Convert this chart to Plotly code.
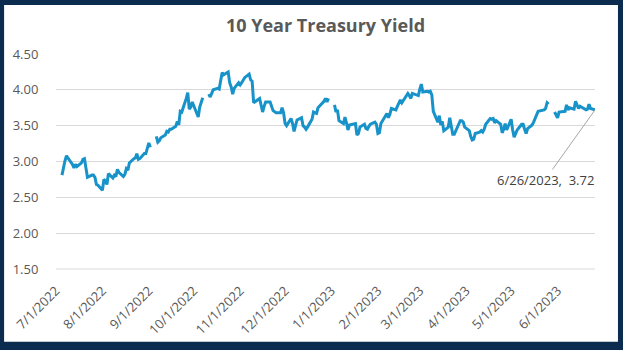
import plotly.graph_objects as go

# ---- data ----
dates = [
 "2022-07-01","2022-07-04","2022-07-05","2022-07-06","2022-07-07","2022-07-08","2022-07-11","2022-07-12","2022-07-13","2022-07-14","2022-07-15",
 "2022-07-18","2022-07-19","2022-07-20","2022-07-21","2022-07-22","2022-07-25","2022-07-26","2022-07-27","2022-07-28","2022-07-29",
 "2022-08-01","2022-08-02","2022-08-03","2022-08-04","2022-08-05","2022-08-08","2022-08-09","2022-08-10","2022-08-11","2022-08-12",
 "2022-08-15","2022-08-16","2022-08-17","2022-08-18","2022-08-19","2022-08-22","2022-08-23","2022-08-24","2022-08-25","2022-08-26",
 "2022-08-29","2022-08-30","2022-08-31",
 "2022-09-01","2022-09-02","2022-09-05","2022-09-06","2022-09-07","2022-09-08","2022-09-09","2022-09-12","2022-09-13","2022-09-14",
 "2022-09-15","2022-09-16","2022-09-19","2022-09-20","2022-09-21","2022-09-22","2022-09-23","2022-09-26","2022-09-27","2022-09-28",
 "2022-09-29","2022-09-30",
 "2022-10-03","2022-10-04","2022-10-05","2022-10-06","2022-10-07","2022-10-10","2022-10-11","2022-10-12","2022-10-13","2022-10-14",
 "2022-10-17","2022-10-18","2022-10-19","2022-10-20","2022-10-21","2022-10-24","2022-10-25","2022-10-26","2022-10-27","2022-10-28",
 "2022-10-31",
 "2022-11-01","2022-11-02","2022-11-03","2022-11-04","2022-11-07","2022-11-08","2022-11-09","2022-11-10","2022-11-14","2022-11-15",
 "2022-11-16","2022-11-17","2022-11-18","2022-11-21","2022-11-22","2022-11-23","2022-11-25","2022-11-28","2022-11-29","2022-11-30",
 "2022-12-01","2022-12-02","2022-12-05","2022-12-06","2022-12-07","2022-12-08","2022-12-09","2022-12-12","2022-12-13","2022-12-14",
 "2022-12-15","2022-12-16","2022-12-19","2022-12-20","2022-12-21","2022-12-22","2022-12-23","2022-12-27","2022-12-28","2022-12-29",
 "2022-12-30",
 "2023-01-02","2023-01-03","2023-01-04","2023-01-05","2023-01-06","2023-01-09","2023-01-10","2023-01-11","2023-01-12","2023-01-13",
 "2023-01-17","2023-01-18","2023-01-19","2023-01-20","2023-01-23","2023-01-24","2023-01-25","2023-01-26","2023-01-27","2023-01-30",
 "2023-01-31",
 "2023-02-01","2023-02-02","2023-02-03","2023-02-06","2023-02-07","2023-02-08","2023-02-09","2023-02-10","2023-02-13","2023-02-14",
 "2023-02-15","2023-02-16","2023-02-17","2023-02-21","2023-02-22","2023-02-23","2023-02-24","2023-02-27","2023-02-28",
 "2023-03-01","2023-03-02","2023-03-03","2023-03-06","2023-03-07","2023-03-08","2023-03-09","2023-03-10","2023-03-13","2023-03-14",
 "2023-03-15","2023-03-16","2023-03-17","2023-03-20","2023-03-21","2023-03-22","2023-03-23","2023-03-24","2023-03-27","2023-03-28",
 "2023-03-29","2023-03-30","2023-03-31",
 "2023-04-03","2023-04-04","2023-04-05","2023-04-06","2023-04-07","2023-04-10","2023-04-11","2023-04-12","2023-04-13","2023-04-14",
 "2023-04-17","2023-04-18","2023-04-19","2023-04-20","2023-04-21","2023-04-24","2023-04-25","2023-04-26","2023-04-27","2023-04-28",
 "2023-05-01","2023-05-02","2023-05-03","2023-05-04","2023-05-05","2023-05-08","2023-05-09","2023-05-10","2023-05-11","2023-05-12",
 "2023-05-15","2023-05-16","2023-05-17","2023-05-18","2023-05-19","2023-05-22","2023-05-23","2023-05-24","2023-05-25","2023-05-26",
 "2023-05-29","2023-05-30","2023-05-31",
 "2023-06-01","2023-06-02","2023-06-05","2023-06-06","2023-06-07","2023-06-08","2023-06-09","2023-06-12","2023-06-13","2023-06-14",
 "2023-06-15","2023-06-16","2023-06-20","2023-06-21","2023-06-22","2023-06-23","2023-06-26",
]

yields = [
 2.88, None, 2.81, 2.93, 3.01, 3.08, 2.99, 2.96, 2.91, 2.96, 2.93,
 2.98, 3.03, 3.04, 2.91, 2.78, 2.81, 2.81, 2.78, 2.68, 2.67,
 2.60, 2.75, 2.73, 2.68, 2.83, 2.77, 2.81, 2.79, 2.89, 2.85,
 2.79, 2.82, 2.90, 2.88, 2.98, 3.04, 3.05, 3.11, 3.03, 3.04,
 3.11, 3.11, 3.19,
 3.26, 3.20, None, 3.35, 3.27, 3.29, 3.33, 3.37, 3.42, 3.41,
 3.45, 3.45, 3.49, 3.56, 3.51, 3.70, 3.69, 3.88, 3.96, 3.73,
 3.76, 3.83,
 3.67, 3.62, 3.76, 3.83, 3.89, None, 3.94, 3.90, 3.95, 4.00,
 4.02, 4.01, 4.13, 4.24, 4.21, 4.25, 4.10, 4.04, 3.94, 4.02,
 4.10,
 4.07, 4.10, 4.14, 4.17, 4.22, 4.14, 4.12, 3.82, 3.88, 3.80,
 3.69, 3.77, 3.83, 3.83, 3.76, 3.71, 3.68, 3.68, 3.75, 3.68,
 3.53, 3.50, 3.60, 3.53, 3.42, 3.49, 3.58, 3.61, 3.50, 3.48,
 3.45, 3.48, 3.59, 3.69, 3.68, 3.67, 3.75, 3.84, 3.88, 3.83,
 3.88,
 None, 3.79, 3.69, 3.72, 3.57, 3.53, 3.62, 3.54, 3.44, 3.51,
 3.53, 3.37, 3.39, 3.48, 3.52, 3.46, 3.45, 3.49, 3.52, 3.55,
 3.52,
 3.39, 3.40, 3.53, 3.64, 3.67, 3.61, 3.66, 3.74, 3.72, 3.77,
 3.81, 3.86, 3.82, 3.95, 3.92, 3.88, 3.95, 3.92, 3.92,
 4.01, 4.08, 3.97, 3.98, 3.97, 3.98, 3.93, 3.70, 3.55, 3.64,
 3.51, 3.56, 3.43, 3.48, 3.61, 3.48, 3.38, 3.38, 3.53, 3.57,
 3.57, 3.55, 3.48,
 3.43, 3.35, 3.30, 3.31, 3.39, 3.41, 3.43, 3.41, 3.45, 3.52,
 3.60, 3.59, 3.60, 3.54, 3.57, 3.52, 3.40, 3.45, 3.53, 3.44,
 3.59, 3.44, 3.34, 3.39, 3.44, 3.52, 3.52, 3.45, 3.39, 3.46,
 3.51, 3.55, 3.59, 3.65, 3.70, 3.72, 3.72, 3.74, 3.82, 3.80,
 None, 3.69, 3.64,
 3.61, 3.69, 3.69, 3.70, 3.79, 3.72, 3.75, 3.73, 3.84, 3.80,
 3.74, 3.77, 3.72, 3.73, 3.80, 3.74, 3.72,
]

title_text = "10 Year Treasury Yield"
y_ticks = [1.5, 2.0, 2.5, 3.0, 3.5, 4.0, 4.5]
x_range = ["2022-07-01", "2023-06-26"]
label_text = "6/26/2023,  3.72"

# ---- layout geometry ----
W, H = 623, 350
ML, MR, MT, MB = 55, 28, 54, 77
PW, PH = W - ML - MR, H - MT - MB
BL, BT, BR, BB = 3, 4, 5, 3  # border thickness (px)

def px_x(p):
    return (p - ML) / PW

def px_y(p):
    return 1 - (p - MT) / PH

FONT = "Open Sans"
GRAY = "#595959"

fig = go.Figure()
fig.add_trace(go.Scatter(
    x=dates, y=yields, mode="lines", connectgaps=False,
    line=dict(color="#1893C9", width=3), hoverinfo="x+y", showlegend=False,
))

fig.update_layout(
    width=W, height=H,
    margin=dict(l=ML, r=MR, t=MT, b=MB, pad=0),
    paper_bgcolor="#0B2B4F",
    plot_bgcolor="rgba(0,0,0,0)",
    title=dict(text="<b>" + title_text + "</b>", x=0.5, xref="paper", xanchor="center",
               y=1 - 26 / H, yref="container", yanchor="middle",
               font=dict(family=FONT, size=18, color=GRAY)),
    xaxis=dict(
        type="date", range=x_range, dtick="M1", tick0="2022-07-01",
        tickformat="%-m/%-d/%Y", tickangle=-45,
        showgrid=False, zeroline=False, showline=False,
        ticks="outside", ticklen=8, tickcolor="rgba(0,0,0,0)",
        tickfont=dict(family=FONT, size=13, color=GRAY),
    ),
    yaxis=dict(
        range=[1.5, 4.5], tickvals=y_ticks, tickformat=".2f",
        showgrid=True, gridcolor="#D9D9D9", gridwidth=1,
        zeroline=False, showline=False,
        ticks="outside", ticklen=14, tickcolor="rgba(0,0,0,0)",
        tickfont=dict(family=FONT, size=13, color=GRAY),
    ),
    shapes=[
        dict(type="rect", xref="paper", yref="paper", layer="below",
             x0=px_x(BL), x1=px_x(W - BR), y0=px_y(H - BB), y1=px_y(BT),
             fillcolor="white", line=dict(width=0)),
        dict(type="line", xref="paper", yref="paper", layer="above",
             x0=0, x1=1, y0=0, y1=0, line=dict(color="#D9D9D9", width=1)),
    ],
    annotations=[
        dict(x=dates[-1], y=yields[-1], xref="x", yref="y",
             text=label_text, showarrow=True, arrowhead=0, arrowwidth=1,
             arrowcolor="#A6A6A6", ax=-50, ay=70, standoff=0,
             font=dict(family=FONT, size=13, color="#404040")),
    ],
)

fig.write_html("out.html")
